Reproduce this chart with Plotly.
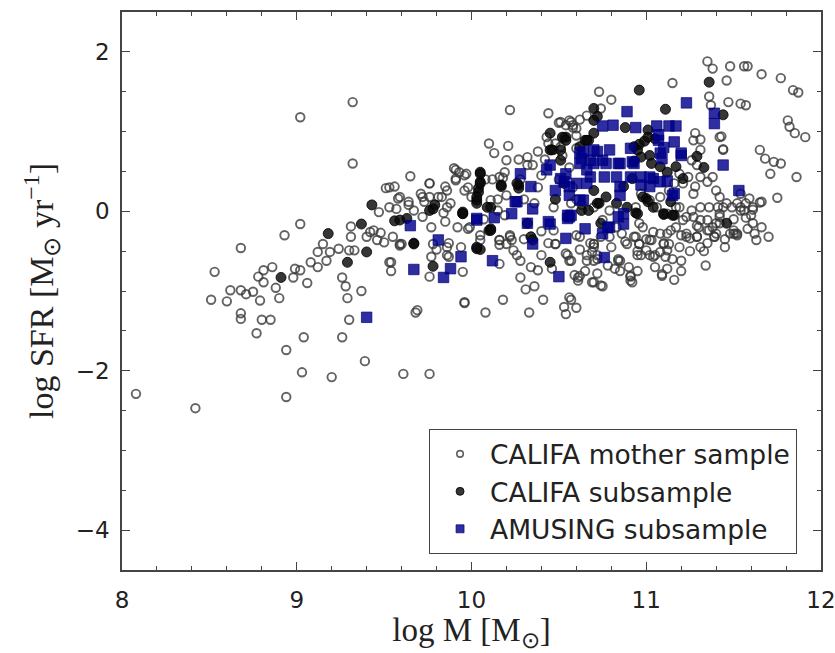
import plotly.graph_objects as go

# CALIFA mother sample (logM, logSFR)
mother_x = [
8.08,8.42,8.53,8.51,8.60,8.62,8.68,8.68,8.71,8.75,8.68,8.68,8.79,8.77,8.80,8.85,8.78,8.81,8.81,8.86,8.88,8.90,8.94,8.94,8.93,9.02,8.98,8.99,9.02,9.06,9.04,9.03,9.08,9.12,9.12,9.15,9.17,9.19,9.20,9.24,9.26,9.28,9.29,9.26,9.30,9.30,9.33,9.31,9.31,9.37,9.39,9.40,9.44,9.46,9.50,9.47,9.54,9.54,9.59,9.61,9.76,9.68,9.48,9.42,
9.02,9.32,9.32,9.51,9.56,9.58,9.57,
9.65,9.53,9.64,9.67,9.59,9.53,9.76,9.76,9.71,9.73,9.76,9.87,9.80,9.96,9.69,9.86,9.83,9.85,9.91,9.90,9.93,9.96,9.94,
10.22,10.44,10.50,10.54,10.10,10.13,10.21,10.27,10.32,9.91,
9.88,9.84,9.98,10.00,10.08,10.12,10.18,10.20,10.15,10.07,10.19,10.28,10.30,10.38,10.36,10.40,10.42,10.38,10.48,10.52,10.56,10.60,10.58,10.62,10.66,10.50,10.58,10.60,10.47,10.40,10.44,10.30,10.22,10.16,10.26,10.05,9.98,10.60,10.55,10.62,10.68,10.66,10.72,10.80,10.84,10.88,10.95,11.00,11.05,11.10,11.15,11.20,11.25,11.30,11.35,11.40,11.45,11.50,11.52,
9.96,10.08,10.18,10.28,10.31,10.36,10.33,10.41,10.38,10.54,10.53,10.60,10.56,10.57,10.61,10.62,10.70,10.75,10.91,10.92,11.09,11.16,11.20,11.34,11.63,11.50,11.52,11.57,11.65,11.61,11.54,
10.16,10.23,10.24,9.87,9.77,9.86,10.48,10.54,10.56,10.66,10.70,10.84,10.97,11.04,11.12,11.11,11.13,11.19,11.25,11.29,11.36,11.40,11.42,11.41,11.57,11.61,10.93,10.96,11.00,10.70,10.69,9.60,9.86,9.78,9.95,10.16,10.05,10.22,
10.57,10.72,10.85,10.91,10.91,11.09,10.61,10.59,10.69,10.74,10.95,11.02,11.08,10.96,11.03,11.10,11.21,11.27,11.29,11.35,11.38,11.39,11.29,11.42,11.48,11.51,11.54,10.79,10.86,10.89,10.98,11.04,11.12,11.17,11.23,10.57,10.63,11.26,11.31,11.36,11.44,11.49,
11.35,11.38,11.48,11.56,11.58,11.66,11.77,11.84,11.87,11.15,10.73,10.80,10.74,11.46,11.54,11.57,11.36,11.37,11.47,11.28,11.31,11.43,11.44,11.65,11.68,11.73,11.77,11.71,11.86,11.81,11.82,11.85,11.91,11.56,11.61,11.66,11.54,11.59,
11.31,11.35,11.38,11.40,11.42,11.46,11.27,11.19,11.23,11.31,11.35,11.23,11.31,11.39,11.42,11.50,11.52,11.27,11.31,11.26,11.29,11.24,11.28,11.21,11.44,11.42,
11.19,11.16,11.13,11.08,11.02,10.97,10.94,11.06,11.12,11.17,10.56,10.58,10.53,10.51,10.79,10.75,10.83,10.70,10.74,10.96,10.94,11.02,11.08,11.14,
10.51,10.57,10.60,10.43,10.44,10.47,10.32,10.35,10.20,10.60,10.11,10.15,10.16,10.19,
9.91,9.97,9.96,9.86,9.81,9.72,9.76,9.59,9.64,9.53,9.55,9.72,9.77,9.85,9.92,9.99,10.16,10.20,10.48,10.47,10.62,10.70,10.70,
11.58,11.62,11.66,11.75,11.70,11.45,11.60,10.90,10.95,10.82,10.40,10.34,10.28,10.46,10.65,10.72,10.78,10.85,11.05,11.12,11.20,11.33,
]
mother_y = [
-2.29,-2.47,-0.76,-1.11,-1.13,-0.99,-0.46,-0.99,-1.04,-1.01,-1.28,-1.35,-1.12,-1.53,-1.36,-1.36,-0.82,-0.74,-0.89,-0.70,-0.96,-1.09,-1.74,-2.33,-0.30,-0.16,-0.83,-0.72,-0.74,-0.90,-1.58,-2.02,-0.64,-0.70,-0.51,-0.41,-0.62,-0.51,-2.08,-0.47,-0.83,-0.94,-1.09,-1.58,-1.36,-0.49,-0.49,-0.19,-0.32,-1.00,-1.88,-0.32,-0.24,-0.36,-0.39,-0.01,-0.64,-0.75,-0.41,-2.04,-2.04,-1.27,-0.27,-0.26,
1.18,1.37,0.60,0.29,0.31,0.16,0.03,
0.44,0.30,0.12,0.01,-0.43,-0.64,0.18,0.35,0.22,0.12,-0.82,-0.57,-0.48,-1.15,-1.24,0.05,0.18,0.31,0.39,0.54,0.49,0.45,-0.45,
1.27,1.23,1.11,1.08,0.85,0.73,0.82,0.65,0.58,0.52,
0.10,-0.02,0.30,0.18,0.40,0.40,0.42,0.20,0.15,-0.10,-0.05,0.40,0.15,0.30,0.10,0.45,0.65,0.75,0.85,0.70,0.55,0.95,1.05,1.15,1.20,0.40,0.30,0.15,0.05,-0.25,-0.40,-0.35,-0.30,-0.42,-0.55,-0.30,-0.22,-0.30,-0.55,-0.48,-0.40,-0.62,-0.55,-0.45,-0.60,-0.38,-0.50,-0.35,-0.55,-0.40,-0.60,-0.30,-0.50,-0.20,-0.40,-0.15,-0.35,-0.10,0.10,
-1.14,-1.27,-1.11,-0.83,-0.98,-0.94,-1.27,-1.11,-0.74,-1.29,-1.20,-1.21,-1.08,-1.11,-0.83,-0.81,-0.89,-0.94,-0.82,-0.89,-0.79,-0.86,-0.62,-0.68,-0.36,-0.28,-0.28,0.10,0.11,0.02,0.01,
-0.36,-0.36,-0.49,-0.40,-0.57,-0.55,-0.41,-0.53,-0.62,-0.55,-0.62,-0.62,-0.55,-0.57,-0.49,-0.57,-0.41,-0.45,-0.34,-0.32,-0.24,-0.28,-0.03,0.05,-0.08,-0.15,-0.32,-0.41,-0.49,-0.41,-0.51,-0.41,-0.45,-0.41,-0.76,-0.66,-0.36,-0.32,
-0.62,-0.60,-0.62,-0.81,-0.87,-0.81,-0.87,-0.80,-0.89,-0.93,-0.55,-0.55,-0.51,-0.41,-0.36,-0.41,-0.11,-0.07,-0.18,-0.11,-0.20,-0.32,-0.32,-0.07,-0.28,-0.28,0.05,-0.32,-0.28,-0.41,-0.20,-0.26,-0.28,-0.20,-0.28,0.10,0.08,0.01,0.05,0.05,0.05,0.05,
1.88,1.79,1.82,1.82,1.82,1.72,1.67,1.52,1.49,1.61,1.50,1.40,1.29,1.64,1.35,1.33,1.44,1.33,1.37,0.98,0.90,0.94,0.78,0.77,0.66,0.62,0.60,0.47,0.43,1.14,1.06,0.98,0.93,0.01,0.05,0.12,0.22,0.16,
0.43,0.37,0.43,0.26,0.18,0.10,0.22,0.05,-0.07,-0.11,-0.24,-0.32,-0.45,-0.32,-0.15,-0.24,-0.30,0.89,0.77,0.64,0.58,0.43,0.31,0.35,0.77,0.93,
0.47,0.35,0.26,0.18,0.14,0.22,0.05,0.05,-0.03,0.05,1.14,1.08,0.93,0.81,0.01,-0.11,-0.20,-0.41,-0.32,-0.15,-0.32,-0.36,-0.28,-0.24,
1.12,1.12,1.04,0.93,0.85,0.77,0.68,0.58,0.64,0.79,0.14,0.01,0.43,0.49,
0.41,0.47,0.26,0.26,0.18,0.18,0.35,0.18,0.08,0.05,-0.32,-0.07,-0.20,-0.13,-0.20,-0.20,-0.36,-0.41,-0.41,-0.24,-0.32,-0.45,0.05,
-0.22,-0.28,-0.20,0.17,-0.32,-0.45,-0.05,-0.70,-0.75,-0.72,-0.55,-0.70,-0.62,-0.72,-0.75,-0.78,-0.68,-0.75,-0.70,-0.72,-0.75,-0.50,
]

# CALIFA subsample
califa_x = [
8.91,9.18,9.29,9.37,9.40,9.43,9.56,9.63,9.67,9.76,9.79,9.78,9.95,10.03,10.04,10.03,10.45,10.54,10.46,10.05,10.05,10.04,10.17,10.27,9.95,10.03,10.11,10.32,10.11,10.34,10.27,10.10,10.70,10.72,10.70,10.65,10.52,10.45,11.36,10.96,11.44,11.11,10.70,10.88,11.01,11.29,11.33,11.46,10.05,10.45,10.94,11.10,11.16,11.05,10.96,11.02,10.93,11.17,11.21,11.00,10.73,10.95,10.63,10.67,10.99,
10.66,10.62,10.70,10.72,10.77,10.83,10.98,11.01,11.04,11.10,11.15,11.14,11.12,11.08,10.97,11.03,10.95,11.01,10.93,10.92,10.87,10.89,10.54,10.51,10.67,10.74,
10.05,10.05,10.17,10.26,10.03,10.09,9.95,9.78,9.59,9.67,10.11,10.35,10.03,10.51,10.53,10.48,
]
califa_y = [
-0.83,-0.28,-0.64,-0.16,-0.51,0.08,-0.12,-0.09,-0.40,0.01,0.08,-0.69,-0.01,0.14,0.29,-0.47,0.98,0.93,0.77,0.49,0.37,0.24,0.31,0.29,-0.03,0.10,0.05,-0.15,-0.22,-0.32,0.33,-0.24,1.29,1.19,0.98,0.89,0.93,0.77,1.62,1.52,1.21,1.28,1.14,1.05,1.02,0.69,0.55,-0.15,-0.48,-0.64,-0.02,-0.04,-0.05,0.91,0.84,0.70,0.63,0.56,0.41,0.16,0.10,-0.03,0.01,0.89,0.88,
0.89,0.81,0.26,0.10,0.18,0.10,0.18,0.12,0.05,-0.03,-0.05,0.12,0.49,0.56,0.68,0.60,0.77,0.93,0.81,0.41,0.31,0.05,0.89,0.77,0.01,-0.15,
0.47,0.35,0.33,0.35,0.18,0.05,-0.03,0.03,-0.11,-0.41,-0.24,-0.36,-0.45,0.64,0.35,0.15,
]

# AMUSING subsample
amusing_x = [
9.40,9.65,9.67,9.81,9.88,9.84,9.94,10.03,10.28,10.34,10.25,10.23,10.35,10.43,10.45,10.48,10.51,10.03,10.13,10.45,10.56,10.62,10.68,10.26,10.32,10.44,10.55,10.54,10.65,10.12,10.35,10.50,10.75,10.79,10.87,10.87,10.76,
11.23,11.39,11.39,10.89,10.75,10.81,10.94,11.06,11.13,11.17,11.07,11.16,11.08,11.20,11.44,11.53,
10.64,10.72,10.79,10.91,10.62,10.70,10.77,10.85,10.93,10.68,10.76,10.83,10.91,10.97,11.04,11.12,10.85,10.97,11.02,11.15,10.64,10.78,10.57,10.60,11.10,10.66,10.56,
10.54,10.53,10.56,10.62,10.55,10.66,10.85,10.84,10.63,10.75,10.84,10.92,10.70,11.02,11.08,11.16,11.07,11.20,11.09,
]
amusing_y = [
-1.33,-0.18,-0.73,-0.36,-0.72,-0.83,-0.57,-0.11,0.47,0.31,0.12,-0.03,0.03,0.52,0.58,0.26,0.41,-0.09,-0.08,-0.16,-0.07,0.73,0.64,0.12,-0.15,-0.13,-0.09,-0.34,-0.22,-0.62,-0.41,-0.82,-0.28,-0.20,-0.16,-0.03,-0.58,
1.36,1.23,1.10,1.25,1.07,1.08,1.05,1.07,1.07,1.07,0.89,0.87,0.73,0.70,0.58,0.26,
0.75,0.75,0.77,0.79,0.60,0.60,0.60,0.60,0.60,0.43,0.43,0.43,0.43,0.43,0.41,0.38,0.20,0.33,0.31,0.20,0.14,-0.20,-0.05,0.35,0.80,0.52,0.20,
0.47,0.37,0.31,0.14,-0.05,0.35,0.31,-0.07,0.66,0.64,0.60,0.62,0.77,0.43,0.37,0.22,0.96,0.73,0.66,
]

series_names = ["CALIFA mother sample", "CALIFA subsample", "AMUSING subsample"]
x_ticks = [8, 9, 10, 11, 12]
y_ticks = [-4, -2, 0, 2]

gray_line = "rgba(55,55,55,0.78)"
black_fill = "rgba(10,10,10,0.82)"
blue_fill = "rgba(0,0,139,0.82)"

fig = go.Figure()
# data traces
fig.add_trace(go.Scatter(
    x=mother_x, y=mother_y, mode="markers", name=series_names[0], showlegend=False,
    marker=dict(symbol="circle", size=8.5, color="rgba(255,255,255,0)",
                line=dict(color=gray_line, width=1.9)),
))
fig.add_trace(go.Scatter(
    x=califa_x, y=califa_y, mode="markers", name=series_names[1], showlegend=False,
    marker=dict(symbol="circle", size=10, color=black_fill,
                line=dict(color="rgba(0,0,0,0.8)", width=1)),
))
fig.add_trace(go.Scatter(
    x=amusing_x, y=amusing_y, mode="markers", name=series_names[2], showlegend=False,
    marker=dict(symbol="square", size=10.5, color=blue_fill,
                line=dict(color="rgba(0,0,120,0.85)", width=0.8)),
))
# legend entries (smaller symbols, as in the reference legend)
fig.add_trace(go.Scatter(
    x=[None], y=[None], mode="markers", name=series_names[0],
    marker=dict(symbol="circle", size=6.5, color="rgba(255,255,255,0)",
                line=dict(color=gray_line, width=1.6)),
))
fig.add_trace(go.Scatter(
    x=[None], y=[None], mode="markers", name=series_names[1],
    marker=dict(symbol="circle", size=8, color=black_fill,
                line=dict(color="rgba(0,0,0,0.8)", width=1)),
))
fig.add_trace(go.Scatter(
    x=[None], y=[None], mode="markers", name=series_names[2],
    marker=dict(symbol="square", size=8, color=blue_fill,
                line=dict(color="rgba(0,0,120,0.85)", width=0.8)),
))

axis_common = dict(
    showline=True, linecolor="#444", linewidth=1.5, mirror="allticks",
    ticks="inside", ticklen=8, tickwidth=1.2, tickcolor="#444",
    showgrid=False, zeroline=False, ticklabeloverflow="allow", automargin=False,
    tickfont=dict(family="DejaVu Sans", size=23, color="#222"),
)

fig.update_xaxes(
    range=[8, 12], tickvals=x_ticks, ticklabelstandoff=9,
    minor=dict(dtick=0.2, ticks="inside", ticklen=4, tickcolor="#444", tickwidth=1, showgrid=False),
    title=dict(text="log M [M<sub>⊙</sub>]", font=dict(family="Liberation Serif", size=33, color="#222"), standoff=12),
    **axis_common,
)
fig.update_yaxes(
    range=[-4.5, 2.5], tickvals=y_ticks, ticklabelstandoff=6,
    minor=dict(dtick=0.5, ticks="inside", ticklen=4, tickcolor="#444", tickwidth=1, showgrid=False),
    title=dict(text="log SFR [M<sub>⊙</sub> yr<sup>−1</sup>]", font=dict(family="Liberation Serif", size=34, color="#222"), standoff=12),
    **axis_common,
)

fig.update_layout(
    width=835, height=653,
    margin=dict(l=122, r=14, t=12, b=83, autoexpand=False),
    plot_bgcolor="white", paper_bgcolor="white",
    legend=dict(
        x=0.439, y=0.2527, xanchor="left", yanchor="top",
        bgcolor="white", bordercolor="#444", borderwidth=1.2,
        font=dict(family="DejaVu Sans", size=26.5, color="#222"),
        itemsizing="trace", itemwidth=50, tracegroupgap=0,
    ),
    showlegend=True,
)

fig.write_html("out.html")
